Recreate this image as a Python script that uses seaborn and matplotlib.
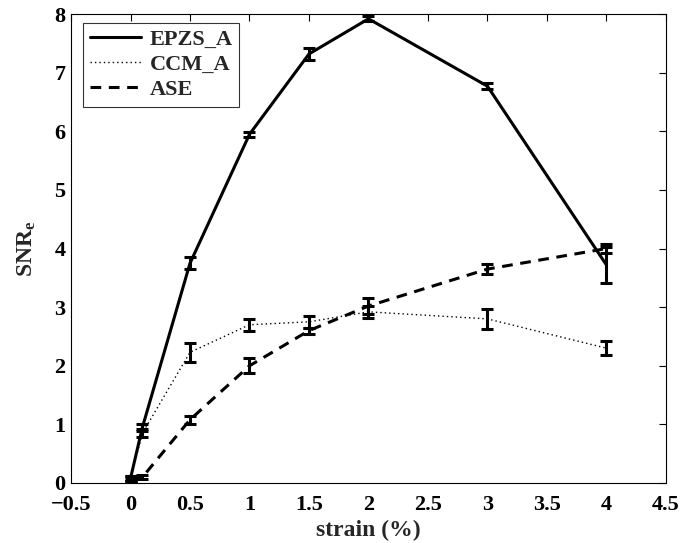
import numpy as np
import pandas as pd
import matplotlib
matplotlib.use("Agg")
import matplotlib.pyplot as plt
import seaborn as sns

strain = [0, 0.1, 0.5, 1, 1.5, 2, 3, 4]
epzs = [0.08, 0.95, 3.75, 5.95, 7.32, 7.92, 6.77, 3.72]
epzs_err = [0.04, 0.06, 0.1, 0.04, 0.1, 0.04, 0.05, 0.3]
ccm = [0.08, 0.85, 2.23, 2.7, 2.75, 2.92, 2.8, 2.3]
ccm_err = [0.04, 0.07, 0.16, 0.1, 0.1, 0.1, 0.17, 0.12]
ase = [0.06, 0.1, 1.08, 2.0, 2.6, 3.02, 3.65, 4.0]
ase_err = [0.03, 0.03, 0.07, 0.13, 0.05, 0.14, 0.08, 0.07]
xticks = [-0.5, 0, 0.5, 1, 1.5, 2, 2.5, 3, 3.5, 4, 4.5]
xticklabels = ["\u22120.5", "0", "0.5", "1", "1.5", "2", "2.5", "3", "3.5", "4", "4.5"]
yticks = [0, 1, 2, 3, 4, 5, 6, 7, 8]

sns.set_style("white")
plt.rcParams['font.family'] = ['Liberation Serif', 'DejaVu Serif']
plt.rcParams['font.weight'] = 'bold'
plt.rcParams['mathtext.fontset'] = 'custom'
plt.rcParams['mathtext.rm'] = 'Liberation Serif:bold'
plt.rcParams['mathtext.it'] = 'Liberation Serif:bold'
plt.rcParams['mathtext.bf'] = 'Liberation Serif:bold'

fig = plt.figure(figsize=(6.83, 5.43), dpi=100)
ax = fig.add_axes([0.104, 0.1105, 0.871, 0.8635])

df = pd.DataFrame({"strain": strain * 3,
                   "snr": epzs + ccm + ase,
                   "err": epzs_err + ccm_err + ase_err,
                   "method": ["EPZS_A"] * 8 + ["CCM_A"] * 8 + ["ASE"] * 8})

styles = {"EPZS_A": dict(ls="-", lw=2.2),
          "CCM_A": dict(ls=(0, (1, 2.2)), lw=1.0),
          "ASE": dict(ls=(0, (3.5, 2.5)), lw=2.2)}

for m in ["EPZS_A", "CCM_A", "ASE"]:
    d = df[df.method == m]
    sns.lineplot(data=d, x="strain", y="snr", ax=ax, color="black",
                 linestyle=styles[m]["ls"], linewidth=styles[m]["lw"],
                 label=m, errorbar=None)
    ax.errorbar(d.strain, d.snr, yerr=d.err, fmt="none", ecolor="black",
                elinewidth=2.2, capsize=4.5, capthick=2.2)

ax.set_xlim(-0.5, 4.5)
ax.set_ylim(0, 8)
ax.set_xticks(xticks)
ax.set_xticklabels(xticklabels)
ax.set_yticks(yticks)
ax.tick_params(direction="in", top=True, right=True, length=5, width=0.8,
               labelsize=16, colors="black")
ax.tick_params(axis="x", pad=9)
ax.tick_params(axis="y", pad=4)
for lab in ax.get_xticklabels() + ax.get_yticklabels():
    lab.set_fontweight("bold")
for s in ax.spines.values():
    s.set_color("black")
    s.set_linewidth(0.8)

ax.set_xlabel("strain (%)", fontsize=17, fontweight="bold", labelpad=3)
ax.set_ylabel(r"SNR$_\mathrm{e}$", fontsize=17, fontweight="bold", labelpad=12)

leg = ax.legend(loc="upper left", bbox_to_anchor=(0.02, 0.981), frameon=True,
                fancybox=False, edgecolor="black", fontsize=16,
                handlelength=2.3, borderpad=0.3, labelspacing=0.2,
                handletextpad=0.4, borderaxespad=0)
leg.get_frame().set_linewidth(0.8)
for t in leg.get_texts():
    t.set_fontweight("bold")

fig.savefig("out.png", dpi=100)
